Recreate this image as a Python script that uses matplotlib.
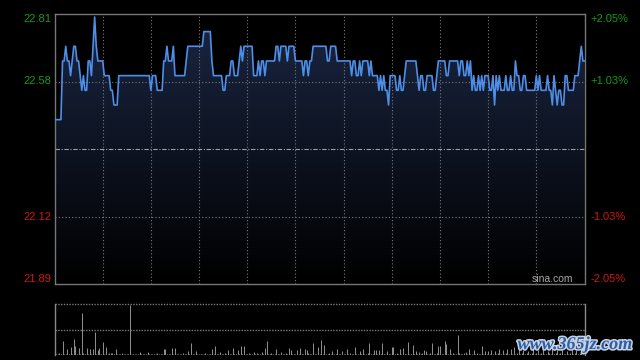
import matplotlib
matplotlib.use('Agg')
import matplotlib.pyplot as plt
import numpy as np
from matplotlib.colors import LinearSegmentedColormap
import matplotlib.patheffects as pe

# intraday minute prices (HK tick 0.05), 331 minutes
price = [
    22.45, 22.45, 22.45, 22.45, 22.45, 22.65, 22.65, 22.70, 22.65, 22.65,
    22.60, 22.65, 22.70, 22.70, 22.65, 22.65, 22.60, 22.55, 22.60, 22.55,
    22.55, 22.65, 22.65, 22.60, 22.70, 22.80, 22.70, 22.65, 22.65, 22.65,
    22.65, 22.60, 22.60, 22.60, 22.60, 22.55, 22.55, 22.50, 22.50, 22.50,
    22.60, 22.60, 22.60, 22.60, 22.60, 22.60, 22.60, 22.60, 22.60, 22.60,
    22.60, 22.60, 22.60, 22.60, 22.60, 22.60, 22.60, 22.60, 22.60, 22.60,
    22.55, 22.60, 22.60, 22.60, 22.55, 22.55, 22.55, 22.55, 22.65, 22.65,
    22.70, 22.65, 22.65, 22.65, 22.70, 22.60, 22.60, 22.60, 22.60, 22.60,
    22.60, 22.60, 22.65, 22.70, 22.70, 22.70, 22.70, 22.70, 22.70, 22.70,
    22.70, 22.70, 22.70, 22.75, 22.75, 22.75, 22.75, 22.75, 22.65, 22.60,
    22.60, 22.60, 22.60, 22.60, 22.60, 22.55, 22.55, 22.60, 22.60, 22.60,
    22.65, 22.65, 22.60, 22.60, 22.60, 22.65, 22.70, 22.65, 22.70, 22.70,
    22.70, 22.70, 22.70, 22.70, 22.60, 22.60, 22.60, 22.65, 22.60, 22.65,
    22.65, 22.60, 22.65, 22.65, 22.65, 22.65, 22.65, 22.65, 22.70, 22.70,
    22.65, 22.70, 22.70, 22.70, 22.70, 22.65, 22.70, 22.70, 22.70, 22.70,
    22.65, 22.65, 22.65, 22.65, 22.65, 22.60, 22.65, 22.65, 22.60, 22.65,
    22.65, 22.70, 22.70, 22.70, 22.70, 22.70, 22.70, 22.70, 22.70, 22.70,
    22.65, 22.65, 22.70, 22.70, 22.70, 22.70, 22.65, 22.65, 22.65, 22.65,
    22.65, 22.65, 22.65, 22.65, 22.65, 22.60, 22.65, 22.65, 22.60, 22.60,
    22.65, 22.60, 22.65, 22.65, 22.65, 22.65, 22.60, 22.65, 22.60, 22.60,
    22.60, 22.60, 22.55, 22.60, 22.55, 22.60, 22.55, 22.55, 22.50, 22.60,
    22.60, 22.60, 22.60, 22.55, 22.55, 22.60, 22.55, 22.55, 22.60, 22.65,
    22.65, 22.65, 22.65, 22.65, 22.65, 22.65, 22.60, 22.55, 22.60, 22.60,
    22.55, 22.55, 22.60, 22.60, 22.60, 22.60, 22.55, 22.55, 22.60, 22.65,
    22.65, 22.65, 22.65, 22.65, 22.60, 22.60, 22.65, 22.65, 22.65, 22.65,
    22.65, 22.65, 22.60, 22.65, 22.65, 22.60, 22.60, 22.65, 22.60, 22.65,
    22.55, 22.60, 22.55, 22.55, 22.60, 22.55, 22.60, 22.55, 22.60, 22.60,
    22.60, 22.55, 22.55, 22.60, 22.50, 22.60, 22.55, 22.60, 22.55, 22.55,
    22.55, 22.60, 22.55, 22.55, 22.60, 22.55, 22.55, 22.65, 22.60, 22.60,
    22.55, 22.55, 22.60, 22.60, 22.55, 22.55, 22.55, 22.55, 22.55, 22.55,
    22.60, 22.55, 22.60, 22.55, 22.55, 22.55, 22.55, 22.60, 22.55, 22.55,
    22.50, 22.60, 22.55, 22.50, 22.55, 22.55, 22.50, 22.50, 22.60, 22.60,
    22.55, 22.55, 22.55, 22.55, 22.60, 22.60, 22.60, 22.65, 22.70, 22.65,
    22.65,
]

# minute volumes (relative units)
volume = [
    1, 1, 1, 2, 1, 14, 1, 1, 6, 1,
    8, 1, 16, 9, 1, 7, 1, 42, 2, 1,
    7, 1, 6, 1, 6, 23, 1, 5, 7, 1,
    13, 1, 8, 1, 2, 2, 2, 1, 6, 1,
    1, 1, 2, 1, 1, 1, 1, 50, 1, 1,
    1, 1, 1, 3, 1, 1, 1, 1, 3, 1,
    1, 1, 1, 1, 2, 1, 1, 1, 6, 6,
    1, 1, 1, 7, 1, 7, 1, 1, 1, 1,
    2, 1, 1, 4, 1, 12, 1, 1, 4, 1,
    1, 1, 1, 1, 2, 1, 1, 1, 6, 1,
    9, 1, 1, 3, 1, 1, 2, 1, 5, 1,
    1, 7, 1, 1, 5, 1, 9, 1, 9, 1,
    1, 2, 1, 1, 3, 1, 2, 1, 1, 3,
    1, 7, 14, 1, 1, 2, 1, 1, 6, 1,
    1, 3, 1, 1, 2, 1, 7, 5, 1, 1,
    1, 5, 1, 7, 1, 1, 6, 5, 2, 1,
    1, 12, 1, 1, 8, 1, 15, 1, 10, 1,
    1, 2, 1, 4, 1, 1, 6, 1, 1, 4,
    1, 1, 6, 1, 2, 1, 1, 8, 1, 1,
    4, 1, 6, 1, 1, 2, 12, 1, 1, 5,
    5, 1, 5, 1, 12, 1, 1, 4, 1, 1,
    8, 8, 1, 2, 1, 6, 1, 7, 1, 1,
    13, 1, 1, 10, 1, 4, 1, 3, 1, 2,
    5, 4, 1, 1, 2, 12, 1, 1, 2, 9,
    9, 1, 1, 14, 11, 1, 6, 1, 2, 1,
    1, 20, 2, 1, 1, 2, 3, 1, 6, 1,
    1, 5, 1, 2, 1, 1, 9, 1, 4, 1,
    4, 1, 5, 1, 4, 1, 2, 6, 1, 5,
    1, 2, 6, 1, 6, 1, 8, 1, 2, 8,
    1, 2, 5, 1, 2, 4, 1, 2, 6, 1,
    2, 5, 1, 2, 7, 1, 1, 4, 2, 1,
    6, 1, 2, 5, 1, 2, 8, 1, 1, 4,
    1, 2, 6, 1, 2, 5, 1, 2, 7, 1,
    6,
]

prev_close = 22.35
price_ticks = [22.81, 22.58, 22.12, 21.89]
price_labels = ['22.81', '22.58', '22.12', '21.89']
pct_labels = ['+2.05%', '+1.03%', '-1.03%', '-2.05%']

GREEN = '#169a16'
RED = '#d01414'
GRID = '#7a7a7a'

minutes = np.arange(len(price))
x_max = len(price) - 1

fig = plt.figure(figsize=(6.4, 3.6), dpi=100, facecolor='black')
ax = fig.add_axes([54.5 / 640, 1 - 284 / 360, 530 / 640, 270 / 360])
axv = fig.add_axes([54.5 / 640, 1 - 355 / 360, 530 / 640, 51 / 360])

for a in (ax, axv):
    a.set_facecolor('black')
    a.set_xticks([])
    a.set_yticks([])

# price panel
ax.set_xlim(0, x_max)
ax.set_ylim(21.89, 22.81)
for s in ax.spines.values():
    s.set_color('#767676')
    s.set_linewidth(1)

fill = ax.fill_between(minutes, price, 21.89, facecolor='none', edgecolor='none')
cmap = LinearSegmentedColormap.from_list('fade', ['#000000', '#1a2642'])
grad = np.linspace(1, 0, 256).reshape(-1, 1)
im = ax.imshow(grad, aspect='auto', cmap=cmap, extent=[0, x_max, 21.89, 22.81],
               zorder=1, interpolation='bilinear')
im.set_clip_path(fill.get_paths()[0], transform=ax.transData)

for k in range(1, 11):
    ax.axvline(k * 30, color=GRID, lw=0.8, ls=(0, (1, 2)), zorder=2)
for yv in (price_ticks[1], price_ticks[2]):
    ax.axhline(yv, color=GRID, lw=0.8, ls=(0, (1, 2)), zorder=2)
ax.axhline(prev_close, color='#a0a0a0', lw=0.8, ls=(0, (4, 1.5, 1, 1.5)), zorder=2)

ax.plot(minutes, price, color='#4d8ee8', lw=1.2, zorder=3)

tr_left = ax.get_yaxis_transform()
vas = ['top', 'center', 'center', 'bottom']
colors = [GREEN, GREEN, RED, RED]
for yv, lab, pl, va, c in zip(price_ticks, price_labels, pct_labels, vas, colors):
    ax.text(-0.006, yv, lab, transform=tr_left, ha='right', va=va, color=c,
            fontsize=8, family='Liberation Sans')
    ax.text(1.011, yv, pl, transform=tr_left, ha='left', va=va, color=c,
            fontsize=8, family='Liberation Sans')

ax.text(0.978, 0.018, 'sina.com', transform=ax.transAxes, ha='right', va='center',
        color='#a8a8a8', fontsize=7.5, family='Liberation Sans', zorder=4)

# volume panel
axv.set_xlim(0, x_max)
axv.set_ylim(0, 50.5)
axv.spines['top'].set_visible(False)
axv.spines['bottom'].set_visible(False)
for side in ('left', 'right'):
    axv.spines[side].set_color('#8a8a8a')
    axv.spines[side].set_linewidth(1)
axv.axhline(50.5, color=GRID, lw=1, ls=(0, (1, 1)), clip_on=False)
axv.axhline(25.25, color=GRID, lw=1, ls=(0, (1, 1)))
axv.axhline(0.3, color='#5a5a5a', lw=1, ls=(0, (1, 1)))
axv.vlines(minutes, 0, volume, colors='#8c8c8c', lw=0.72, zorder=3)

# site watermark
fig.text(0.898, 0.043, 'www.365jz.com', ha='center', va='center', color='#2b5ea8',
         fontsize=13, family='Liberation Serif', weight='bold', style='italic',
         path_effects=[pe.withStroke(linewidth=2.2, foreground='#c8d2e2')])

fig.savefig('out.png', dpi=100, facecolor='black')
